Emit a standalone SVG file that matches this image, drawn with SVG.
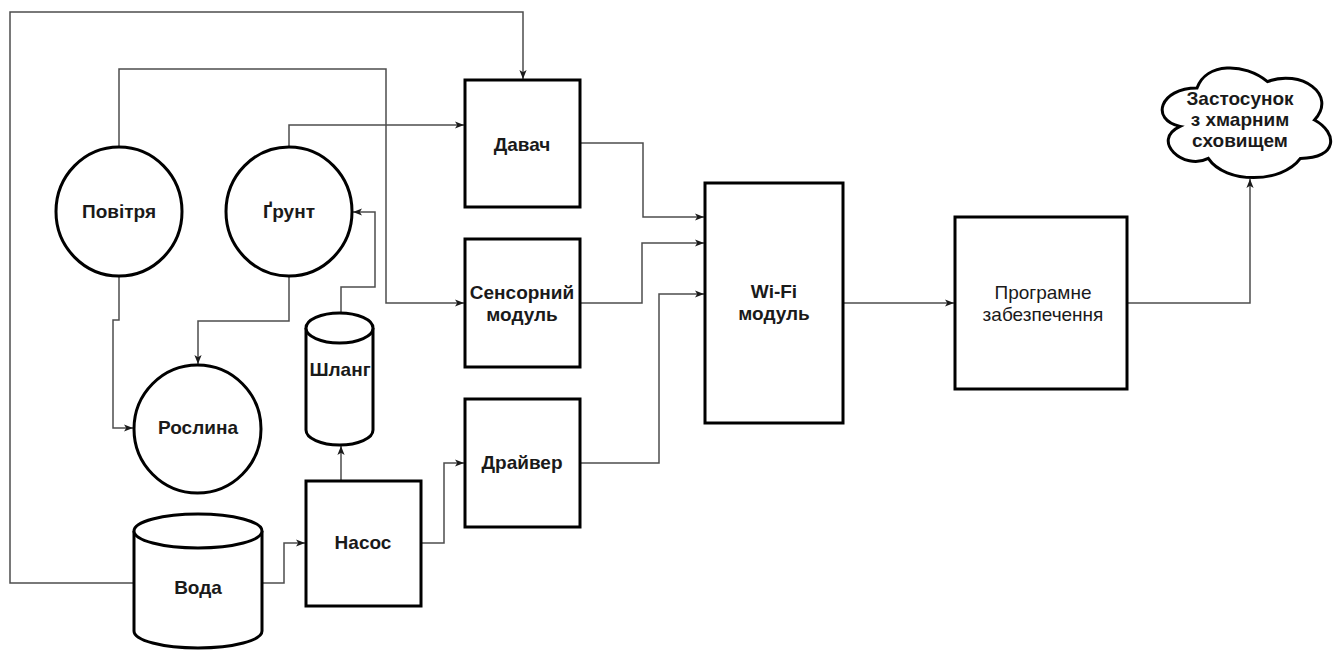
<svg xmlns="http://www.w3.org/2000/svg" width="1335" height="650" viewBox="0 0 1335 650">
  <style>
    .shape { fill: #ffffff; stroke: #000000; stroke-width: 3; }
    .edge { fill: none; stroke: #4d4d4d; stroke-width: 1.5; }
    .label { font-family: "Liberation Sans", Arial, sans-serif; font-size: 19px; font-weight: bold; fill: #1a1a1a; text-anchor: middle; }
    .label.regular { font-weight: normal; font-size: 19px; }
  </style>
  <defs>
    <marker id="arrow" viewBox="0 0 10 8" refX="10" refY="4" markerWidth="9" markerHeight="7.5" markerUnits="userSpaceOnUse" orient="auto">
      <path d="M0,0 L10,4 L0,8 L2.5,4 Z" fill="#1a1a1a"/>
    </marker>
  </defs>
  <rect width="1335" height="650" fill="#ffffff"/>

  <!-- connectors -->
  <g id="connectors">
    <!-- water tank to sensor (long loop round the left and top) -->
    <path class="edge" d="M133,583 H10 V12 H523 V79" marker-end="url(#arrow)"/>
    <!-- air to sensor module -->
    <path class="edge" d="M119,147 V69 H386 V303 H464" marker-end="url(#arrow)"/>
    <!-- soil to sensor -->
    <path class="edge" d="M289,147 V125 H464" marker-end="url(#arrow)"/>
    <!-- air to plant -->
    <path class="edge" d="M119,276 V320 H113 V428 H133" marker-end="url(#arrow)"/>
    <!-- soil to plant -->
    <path class="edge" d="M289,276 V321 H198 V364" marker-end="url(#arrow)"/>
    <!-- hose to soil -->
    <path class="edge" d="M341,312 V287 H375 V212 H353" marker-end="url(#arrow)"/>
    <!-- pump to hose -->
    <path class="edge" d="M341,480 V446" marker-end="url(#arrow)"/>
    <!-- water to pump -->
    <path class="edge" d="M263,583 H284 V543 H305" marker-end="url(#arrow)"/>
    <!-- pump to driver -->
    <path class="edge" d="M421,543 H444 V463 H464" marker-end="url(#arrow)"/>
    <!-- sensor, sensor module, driver to Wi-Fi -->
    <path class="edge" d="M580,143 H643 V217 H704" marker-end="url(#arrow)"/>
    <path class="edge" d="M580,303 H642 V243 H704" marker-end="url(#arrow)"/>
    <path class="edge" d="M580,463 H659 V294 H704" marker-end="url(#arrow)"/>
    <!-- Wi-Fi to software -->
    <path class="edge" d="M843,303 H954" marker-end="url(#arrow)"/>
    <!-- software to cloud app -->
    <path class="edge" d="M1127,303 H1250 V179" marker-end="url(#arrow)"/>
  </g>

  <g id="povitria">
    <ellipse class="shape" cx="119" cy="211.5" rx="63" ry="64.5"/>
    <text class="label" x="119" y="218">Повітря</text>
  </g>

  <g id="grunt">
    <ellipse class="shape" cx="289" cy="211.5" rx="63" ry="64.5"/>
    <text class="label" x="289" y="218">Ґрунт</text>
  </g>

  <g id="roslyna">
    <ellipse class="shape" cx="197.5" cy="429" rx="63.5" ry="64"/>
    <text class="label" x="198" y="434">Рослина</text>
  </g>

  <g id="shlang">
    <path class="shape" d="M306,328 A33.5,15 0 0 1 373,328 V430 A33.5,15 0 0 1 306,430 Z"/>
    <path class="shape" fill="none" d="M306,328 A33.5,15 0 0 0 373,328"/>
    <text class="label" x="340" y="376">Шланг</text>
  </g>

  <g id="voda">
    <path class="shape" d="M134,531 A64,17 0 0 1 262,531 V631 A64,17 0 0 1 134,631 Z"/>
    <path class="shape" fill="none" d="M134,531 A64,17 0 0 0 262,531"/>
    <text class="label" x="198" y="594">Вода</text>
  </g>

  <g id="nasos">
    <rect class="shape" x="306" y="481" width="115" height="125"/>
    <text class="label" x="363" y="549">Насос</text>
  </g>

  <g id="davach">
    <rect class="shape" x="465" y="80" width="115" height="127"/>
    <text class="label" x="522" y="151">Давач</text>
  </g>

  <g id="sensornyi-modul">
    <rect class="shape" x="465" y="239" width="115" height="128"/>
    <text class="label" x="522" y="299">Сенсорний</text>
    <text class="label" x="522" y="321">модуль</text>
  </g>

  <g id="draiver">
    <rect class="shape" x="465" y="399" width="115" height="128"/>
    <text class="label" x="522" y="469">Драйвер</text>
  </g>

  <g id="wifi-modul">
    <rect class="shape" x="705" y="183" width="138" height="240"/>
    <text class="label" x="774" y="298">Wi-Fi</text>
    <text class="label" x="774" y="320">модуль</text>
  </g>

  <g id="prohramne">
    <rect class="shape" x="955" y="217" width="172" height="172"/>
    <text class="label regular" x="1043" y="299">Програмне</text>
    <text class="label regular" x="1043" y="321">забезпечення</text>
  </g>

  <g id="zastosunok">
    <path class="shape" d="M1197,88 C1159.4,88 1150,120 1180.1,126.4 C1150,140.5 1183.8,171.2 1208.3,158.4 C1225.2,184 1281.6,184 1300.4,158.4 C1338,158.4 1338,132.8 1314.5,120 C1338,94.4 1300.4,68.8 1267.5,81.6 C1244,62.4 1206.4,62.4 1197,88 Z"/>
    <text class="label" x="1240" y="105">Застосунок</text>
    <text class="label" x="1240" y="126">з хмарним</text>
    <text class="label" x="1240" y="147">сховищем</text>
  </g>
</svg>
